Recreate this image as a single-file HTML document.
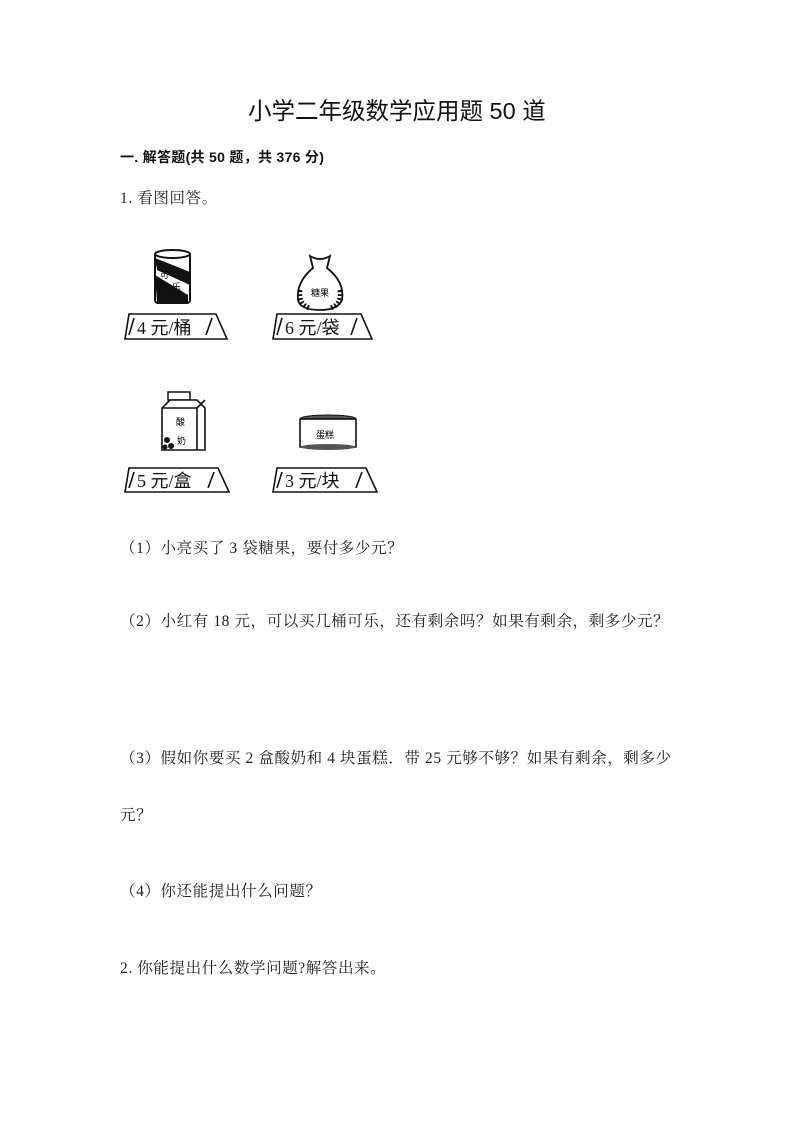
<!DOCTYPE html>
<html><head><meta charset="utf-8"><style>
body{margin:0;width:800px;height:1131px;background:#fff;position:relative;overflow:hidden}
.t{position:absolute;white-space:nowrap;color:#222;font-family:"Liberation Serif","Noto Serif CJK SC",serif;font-size:15.5px;line-height:1;letter-spacing:0.6px}
.s{font-family:"Liberation Sans","Noto Sans CJK SC",sans-serif;letter-spacing:0}
</style></head><body>
<div class="t s" style="left:248px;top:100px;font-size:23.5px;color:#111">小学二年级数学应用题 50 道</div>
<div class="t s" style="left:120px;top:150px;font-size:14px;font-weight:bold;color:#111;letter-spacing:0.3px">一. 解答题(共 50 题，共 376 分)</div>
<div class="t" style="left:120px;top:191px">1. 看图回答。</div>
<div class="t" style="left:120px;top:541px">（1）小亮买了 3 袋糖果，要付多少元？</div>
<div class="t" style="left:120px;top:614px">（2）小红有 18 元，可以买几桶可乐，还有剩余吗？如果有剩余，剩多少元？</div>
<div class="t" style="left:120px;top:751px">（3）假如你要买 2 盒酸奶和 4 块蛋糕．带 25 元够不够？如果有剩余，剩多少</div>
<div class="t" style="left:120px;top:808px">元？</div>
<div class="t" style="left:120px;top:884px">（4）你还能提出什么问题？</div>
<div class="t" style="left:120px;top:961px">2. 你能提出什么数学问题?解答出来。</div>
<svg width="800" height="1131" style="position:absolute;left:0;top:0" font-family="Liberation Serif,Noto Sans CJK SC,serif">
<g fill="none" stroke="#111" stroke-width="1.6">
<path d="M129 314 H216 L227 339 H125 Z M134 318 L129 335 M212 318 L206 335"/>
<path d="M277 314 H361 L372 339 H273 Z M282 318 L277 335 M357 318 L351 335"/>
<path d="M129 468 H218 L229 492 H125 Z M134 472 L129 488 M214 472 L208 488"/>
<path d="M277 468 H366 L377 492 H273 Z M282 472 L277 488 M362 472 L356 488"/>
</g>
<g font-size="18" fill="#111">
<text x="137" y="334">4 元/桶</text>
<text x="285" y="334">6 元/袋</text>
<text x="137" y="487">5 元/盒</text>
<text x="285" y="487">3 元/块</text>
</g>
<!-- can -->
<rect x="155" y="253" width="35" height="50" rx="3" fill="#fff" stroke="#111" stroke-width="2"/>
<ellipse cx="172.5" cy="254" rx="17.5" ry="4" fill="#fff" stroke="#111" stroke-width="2"/>
<path d="M155 258 L190 272 V285 L157 270 Z" fill="#111"/>
<path d="M155 275 L188 295 V302 H157 Z" fill="#111"/>
<text x="160" y="278" font-size="9" font-family="Noto Sans CJK SC">可</text>
<text x="172" y="290" font-size="9" font-family="Noto Sans CJK SC">乐</text>
<!-- bag -->
<path d="M310 256 Q320 262 330 256 L327 268 Q345 282 342 300 Q338 310 320 310 Q300 310 298 300 Q296 282 313 268 Z" fill="#fff" stroke="#111" stroke-width="1.8"/>
<path d="M300 290 Q298 305 310 308 M340 290 Q342 305 330 308" stroke="#111" stroke-width="5" stroke-dasharray="2 2" fill="none"/>
<text x="311" y="296" font-size="9" font-family="Noto Sans CJK SC">糖果</text>
<!-- milk -->
<rect x="168" y="392" width="22" height="8" fill="#fff" stroke="#111" stroke-width="1.5"/>
<path d="M162 408 L170 400 H197 L205 408 V450 H162 Z M162 408 H197 V450 M197 408 L205 400" fill="#fff" stroke="#111" stroke-width="1.6"/>
<text x="176" y="425" font-size="9" font-family="Noto Sans CJK SC">酸</text>
<text x="177" y="444" font-size="9" font-family="Noto Sans CJK SC">奶</text>
<circle cx="167" cy="440" r="3" fill="#111"/><circle cx="171" cy="446" r="3" fill="#111"/><circle cx="165" cy="447" r="2.5" fill="#111"/>
<!-- cake -->
<ellipse cx="328" cy="419" rx="28" ry="4" fill="#555" stroke="#111"/>
<rect x="300" y="419" width="56" height="28" fill="#fff" stroke="#111" stroke-width="1.6"/>
<ellipse cx="328" cy="447" rx="28" ry="3" fill="#555"/>
<text x="316" y="438" font-size="9" font-family="Noto Sans CJK SC">蛋糕</text>
</svg>
</body></html>
